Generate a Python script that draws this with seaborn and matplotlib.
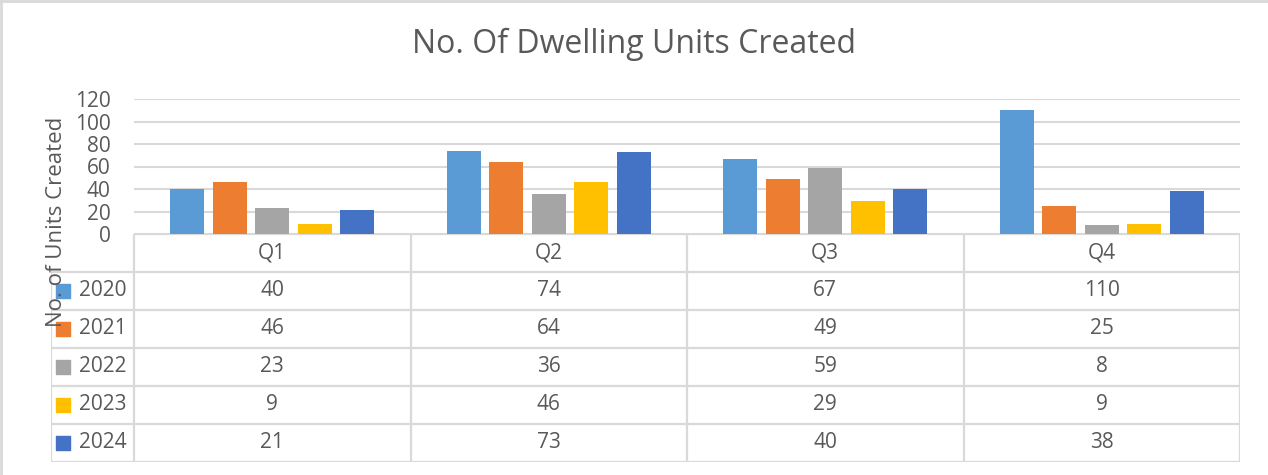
import pandas as pd
import matplotlib.pyplot as plt
import seaborn as sns

# data
quarters = ['Q1', 'Q2', 'Q3', 'Q4']
years = ['2020', '2021', '2022', '2023', '2024']
units_2020 = [40, 74, 67, 110]
units_2021 = [46, 64, 49, 25]
units_2022 = [23, 36, 59, 8]
units_2023 = [9, 46, 29, 9]
units_2024 = [21, 73, 40, 38]
year_colors = ['#5B9BD5', '#ED7D31', '#A5A5A5', '#FFC000', '#4472C4']

series = [units_2020, units_2021, units_2022, units_2023, units_2024]
df = pd.DataFrame([
    {'Quarter': q, 'Year': y, 'Units': vals[i]}
    for y, vals in zip(years, series)
    for i, q in enumerate(quarters)
])

sns.set_style("white")
plt.rcParams['font.family'] = ['Open Sans', 'DejaVu Sans']
text_col = '#595959'
grid_col = '#D9D9D9'

W, H = 1268, 475
fig = plt.figure(figsize=(W / 100, H / 100), dpi=100)

# plot area (pixel box converted to figure fractions)
left, right, top, bottom = 134, 1240, 99, 234
ax = fig.add_axes([left / W, 1 - bottom / H, (right - left) / W, (bottom - top) / H])
sns.barplot(data=df, x='Quarter', y='Units', hue='Year', order=quarters,
            hue_order=years, palette=year_colors, width=0.77, gap=0.2,
            saturation=1, legend=False, linewidth=0, ax=ax)
ax.set_xlim(-0.5, len(quarters) - 0.5)
ax.set_ylim(0, 120)
ax.set_yticks(range(0, 121, 20))
ax.yaxis.grid(True, color=grid_col, linewidth=1.5)
ax.set_axisbelow(True)
for s in ax.spines.values():
    s.set_visible(False)
ax.set_xticks([])
ax.set_xlabel('')
ax.set_ylabel('')
ax.tick_params(axis='y', length=0, pad=17, labelsize=15, labelcolor=text_col)

# data table below the plot
tab_left, tab_bottom = 51, 462
leg_w = (left - tab_left) / ((right - left) / len(quarters))
tax = fig.add_axes([tab_left / W, 1 - tab_bottom / H,
                    (right - tab_left) / W, (tab_bottom - bottom) / H])
tax.set_xlim(-0.5 - leg_w, len(quarters) - 0.5)
tax.set_ylim(len(years) + 1, 0)
tax.axis('off')
lw = 1.6
x0, x1 = -0.5 - leg_w, len(quarters) - 0.5
tax.hlines(0, -0.5, x1, color=grid_col, lw=lw)
tax.hlines(range(1, len(years) + 2), x0, x1, color=grid_col, lw=lw)
tax.vlines([q - 0.5 for q in range(len(quarters) + 1)], 0, len(years) + 1,
           color=grid_col, lw=lw)
tax.vlines(x0, 1, len(years) + 1, color=grid_col, lw=lw)

fs = 15
for i, q in enumerate(quarters):
    tax.text(i, 0.5, q, ha='center', va='center', fontsize=fs, color=text_col)
for j, (y, vals, c) in enumerate(zip(years, series, year_colors)):
    row = j + 1.5
    tax.scatter(x0 + 0.045, row, marker='s', s=110, color=c)
    tax.text(x0 + 0.1, row, y, ha='left', va='center', fontsize=fs, color=text_col)
    for i, v in enumerate(vals):
        tax.text(i, row, str(v), ha='center', va='center', fontsize=fs, color=text_col)

fig.text(634 / W, 1 - 44 / H, 'No. Of Dwelling Units Created', ha='center',
         va='center', fontsize=23, color=text_col)
fig.text(57 / W, 1 - 222 / H, 'No. of Units Created', ha='center', va='center',
         rotation=90, fontsize=16, color=text_col)

# chart border (top and left edges visible)
fig.add_artist(plt.Line2D([0.5 / W, 0.5 / W], [0, 1], color=grid_col, lw=2))
fig.add_artist(plt.Line2D([0, 1], [1 - 1 / H, 1 - 1 / H], color=grid_col, lw=2))

fig.savefig('out.png', dpi=100)
